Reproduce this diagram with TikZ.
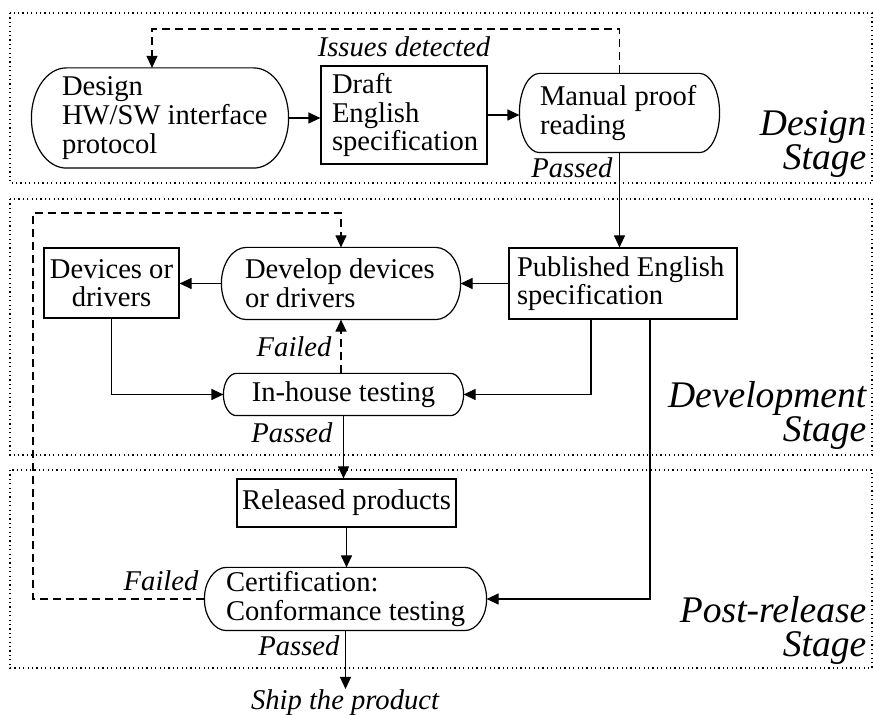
\documentclass[tikz,border=0pt]{standalone}
\usepackage{fontspec}
\setmainfont{Liberation Serif}
\usepackage{tikz}
\usetikzlibrary{arrows.meta, positioning, calc}
\newcommand{\bodyfont}{\fontsize{14.3}{14.3}\selectfont}
\newcommand{\stagefont}{\fontsize{18.8}{17}\selectfont\itshape}
% oval outline round a named node, #2 = depth of the end curves
\newcommand{\stadiumframe}[2]{%
  \draw let \p1=(#1.north west), \p2=(#1.south east), \n1={(\y1-\y2)/2} in
    (\x1+#2,\y1) -- (\x2-#2,\y1) arc[start angle=90, end angle=-90, x radius=#2, y radius=\n1]
    -- (\x1+#2,\y2) arc[start angle=270, end angle=90, x radius=#2, y radius=\n1] -- cycle;}

\begin{document}
\begin{tikzpicture}[
    x=0.5pt, y=-0.5pt, line width=0.6pt,
    >={Triangle[length=6pt, width=5.5pt]},
    procbox/.style={rectangle, align=flush left, inner sep=0pt, font=\bodyfont},
    docbox/.style={draw, rectangle, align=flush left, inner sep=0pt, font=\bodyfont},
    flowlabel/.style={font=\bodyfont\itshape, inner sep=0pt},
    stagelabel/.style={font=\stagefont, align=right, inner sep=0pt, anchor=south east},
    stagebox/.style={dash pattern=on 0.6pt off 1.6pt},
    loopline/.style={->, dash pattern=on 4pt off 2.5pt},
]
    \useasboundingbox (0,0) rectangle (874,715);

    % Stage frames
    \draw[stagebox] (10,13) rectangle (872,183);
    \draw[stagebox] (10,199) rectangle (872,455);
    \draw[stagebox] (10,470) rectangle (872,668);

    % Design stage
    \node[procbox, text width=98pt, minimum width=128pt, minimum height=49.5pt] (design) at (160,118) {Design\\\mbox{HW/SW interface}\\protocol};
    \node[docbox, text width=72pt, minimum width=83pt, minimum height=49pt] (draft) at (404,115) {Draft\\English\\\mbox{specification}};
    \node[procbox, text width=79.5pt, minimum width=99.5pt, minimum height=39pt] (proof) at (619.5,113) {\mbox{Manual proof}\\reading};

    % Development stage
    \node[docbox, text width=106pt, minimum width=114pt, minimum height=35.5pt] (published) at (623,283.5) {\mbox{Published English}\\specification};
    \node[procbox, text width=96pt, minimum width=119pt, minimum height=35.5pt] (develop) at (341,283.5) {\mbox{Develop devices}\\or drivers};
    \node[docbox, align=center, minimum width=67.5pt, minimum height=35pt] (devices) at (111.5,283) {Devices or\\drivers};
    \node[procbox, align=center, minimum width=119.5pt, minimum height=20.5pt] (inhouse) at (343.5,394.5) {In-house testing};

    % Post-release stage
    \node[docbox, align=center, minimum width=109.5pt, minimum height=24pt] (released) at (346.5,503) {Released products};
    \node[procbox, text width=119.5pt, minimum width=140.5pt, minimum height=31pt] (cert) at (345.5,599) {Certification:\\\mbox{Conformance testing}};
    \node[flowlabel, anchor=north] (ship) at (345,689) {Ship the product};

    \stadiumframe{design}{17.5pt}
    \stadiumframe{proof}{10pt}
    \stadiumframe{develop}{12.5pt}
    \stadiumframe{inhouse}{6.5pt}
    \stadiumframe{cert}{11pt}

    % Flow
    \draw[->] (design.east) -- (design.east -| draft.west);
    \draw[->] (draft.east) -- (draft.east -| proof.west);
    \draw[->] (proof.south) -- (proof.south |- published.north);
    \draw[->] (published.west) -- (develop.east);
    \draw[->] (develop.west) -- (develop.west -| devices.east);
    \draw[->] (devices.south) |- (inhouse.west);
    \draw[->] ([xshift=-16pt]published.south) |- (inhouse.east);
    \draw[->] (inhouse.south) -- (inhouse.south |- released.north);
    \draw[->] (released.south) -- (released.south |- cert.north);
    \draw[->] ([xshift=13.5pt]published.south) |- (cert.east);
    \draw[->] (cert.south) -- (cert.south |- ship.north);

    % Feedback loops
    \coordinate (issuestop) at (0,29);
    \coordinate (loopcorner) at (33,213);
    \draw[loopline] (proof.north) -- (proof.north |- issuestop) -| ([xshift=-4pt]design.north);
    \draw[loopline] (inhouse.north -| develop.south) -- (develop.south);
    \draw[loopline] (cert.west) -| (loopcorner) -| (develop.north);

    % Labels
    \node[flowlabel] (issues) at (404,47) {Issues detected};
    \node[flowlabel, anchor=east] (passproof) at (613,168) {Passed};
    \node[flowlabel, anchor=east] (faildev) at (332,347) {Failed};
    \node[flowlabel, anchor=east] (passhouse) at (333,433) {Passed};
    \node[flowlabel, anchor=east] (failcert) at (199,581) {Failed};
    \node[flowlabel, anchor=east] (passcert) at (340,646) {Passed};

    \node[stagelabel] (designstage) at (867,178) {Design\\Stage};
    \node[stagelabel] (devstage) at (867,450) {Development\\Stage};
    \node[stagelabel] (poststage) at (867,665) {Post-release\\Stage};
\end{tikzpicture}
\end{document}
